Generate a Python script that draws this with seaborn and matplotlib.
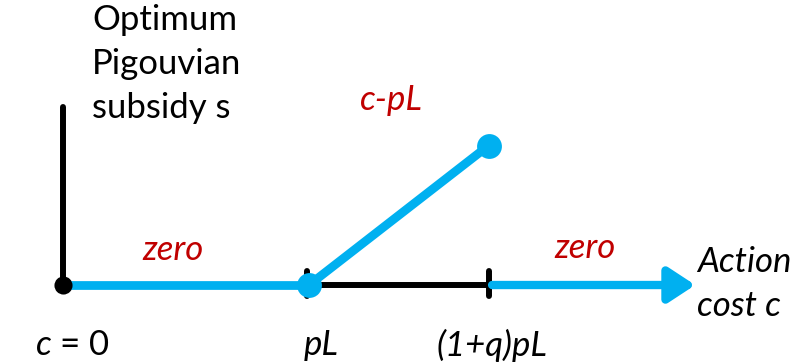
import matplotlib
matplotlib.use("Agg")
import matplotlib.pyplot as plt
import seaborn as sns

sns.set_theme(style="white")
plt.rcParams['font.family'] = ['Lato', 'DejaVu Sans']
plt.rcParams['mathtext.fontset'] = 'custom'
plt.rcParams['mathtext.it'] = 'Lato:italic'
plt.rcParams['mathtext.rm'] = 'Lato'

# ---- data (c measured in units of pL) ----
q = 0.73
c_ticks = [0.0, 1.0, 1.0 + q]            # c = 0, pL, (1+q)pL
c_tick_labels = ["$c$ = 0", "pL", "(1+q)pL"]
c_tick_label_italic = [False, True, True]
c_arrow_end = 2.57
zero_left_c = [0.0, 1.0]
zero_left_s = [0.0, 0.0]
subsidy_c = [1.0, 1.0 + q]
subsidy_s = [0.0, q]                      # s = c - pL
zero_right_c = [1.0 + q, c_arrow_end]
yaxis_top = 0.93

BLUE = "#00B0F0"
RED = "#C00000"
BLACK = "#000000"

fig = plt.figure(figsize=(8.06, 3.62), dpi=100)
ax = fig.add_axes([0, 0, 1, 1])
ax.set_xlim(-0.256, 3.020)
ax.set_ylim(-0.403, 1.492)
ax.axis("off")

BLW = 4.3
# vertical axis
sns.lineplot(x=[0.0, 0.0], y=[0.0, yaxis_top], ax=ax, color=BLACK, lw=BLW,
             estimator=None, sort=False, zorder=2)
# black segment between pL and (1+q)pL
sns.lineplot(x=[c_ticks[1], c_ticks[2]], y=[0, 0], ax=ax, color=BLACK, lw=BLW,
             estimator=None, sort=False, zorder=2)
# ticks at pL and (1+q)pL
for cx in c_ticks[1:]:
    sns.lineplot(x=[cx - 0.008 if cx == 1.0 else cx] * 2, y=[-0.055, 0.075], ax=ax,
                 color=BLACK, lw=BLW, estimator=None, sort=False, zorder=2)
# blue zero segment left
sns.lineplot(x=zero_left_c, y=zero_left_s, ax=ax, color=BLUE, lw=6.3,
             estimator=None, sort=False, zorder=3)
# subsidy line
sns.lineplot(x=subsidy_c, y=subsidy_s, ax=ax, color=BLUE, lw=6.3,
             estimator=None, sort=False, zorder=3)
# arrow right
ax.annotate("", xy=(zero_right_c[1], 0), xytext=(zero_right_c[0] + 0.014, 0),
            arrowprops=dict(arrowstyle="-|>,head_length=1.6,head_width=1.05",
                            color=BLUE, lw=6, shrinkA=0, shrinkB=0,
                            mutation_scale=10), zorder=3)
# dots
sns.scatterplot(x=[0.0], y=[0.0], ax=ax, color=BLACK, s=170, linewidth=0, zorder=4)
sns.scatterplot(x=[subsidy_c[0], subsidy_c[1]], y=[subsidy_s[0], subsidy_s[1]],
                ax=ax, color=BLUE, s=320, linewidth=0, zorder=5)

fs = 25
ax.text(0.118, 1.470, "Optimum\nPigouvian\nsubsidy s", ha="left", va="top",
        fontsize=fs, color=BLACK, linespacing=1.45)
ax.text(0.447, 0.183, "zero", ha="center", va="center", fontsize=fs,
        color=RED, style="italic")
ax.text(1.333, 0.969, "c-pL", ha="center", va="center", fontsize=fs,
        color=RED, style="italic")
ax.text(2.122, 0.194, "zero", ha="center", va="center", fontsize=fs,
        color=RED, style="italic")
ax.text(2.577, 0.005, "Action\ncost c", ha="left", va="center", fontsize=fs,
        color=BLACK, style="italic", linespacing=1.45)
label_x = [0.037, 1.050, 1.745]
for lx, lab, it in zip(label_x, c_tick_labels, c_tick_label_italic):
    ax.text(lx, -0.314, lab, ha="center", va="center", fontsize=fs, color=BLACK,
            style="italic" if it else "normal")

fig.savefig("out.png", dpi=100)
